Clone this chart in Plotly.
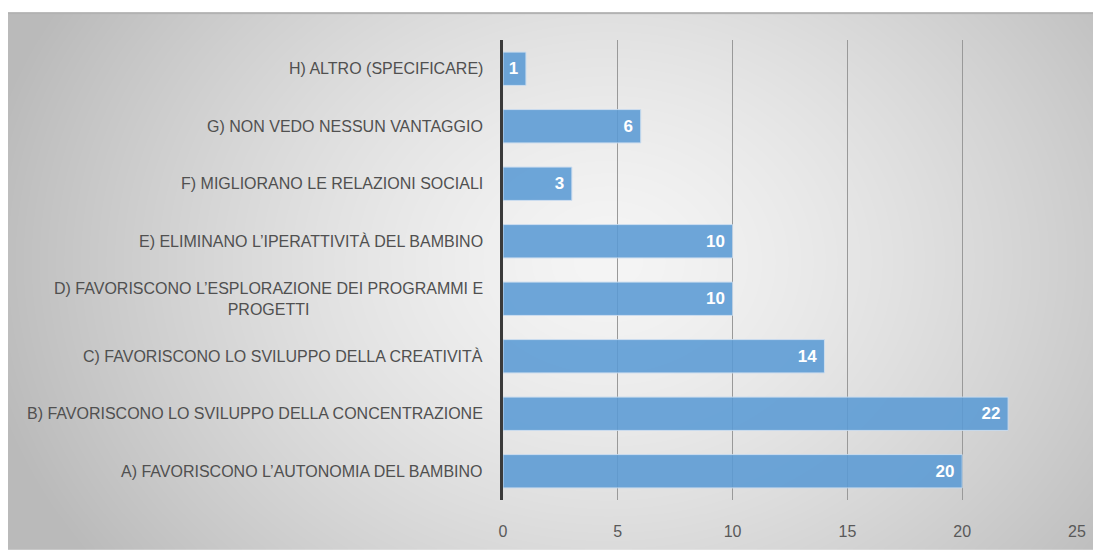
import base64, struct, zlib
import numpy as np
import plotly.graph_objects as go

categories = [
    "A) FAVORISCONO L’AUTONOMIA DEL BAMBINO",
    "B) FAVORISCONO LO SVILUPPO DELLA CONCENTRAZIONE",
    "C) FAVORISCONO LO SVILUPPO DELLA CREATIVITÀ",
    "D) FAVORISCONO L’ESPLORAZIONE DEI PROGRAMMI E<br>PROGETTI",
    "E) ELIMINANO L’IPERATTIVITÀ DEL BAMBINO",
    "F) MIGLIORANO LE RELAZIONI SOCIALI",
    "G) NON VEDO NESSUN VANTAGGIO",
    "H) ALTRO (SPECIFICARE)",
]
values = [20, 22, 14, 10, 10, 3, 6, 1]
x_ticks = [0, 5, 10, 15, 20, 25]

# page has 8px body margin; figure sized to fit the 1101x552 window
W, H = 1093, 544
L, R, T, B = 495, 24, 32, 50
PW, PH = W - L - R, H - T - B

# background panel (radial gray gradient) as generated PNG
pw, ph = 1093, 540
yy, xx = np.mgrid[0:ph, 0:pw].astype(float)
cx, cy = 600.0, 250.0
t = np.sqrt(((xx - cx) / 640.0) ** 2 + ((yy - cy) / 520.0) ** 2)
t = np.clip(t, 0, 1) ** 1.4
light, dark = 245.0, 186.0
img = light + (dark - light) * t
img[0:2, :] = 178
img = np.clip(img, 0, 255).astype(np.uint8)
raw = b"".join(b"\x00" + img[r].tobytes() for r in range(ph))
def chunk(tag, data):
    c = struct.pack(">I", len(data)) + tag + data
    return c + struct.pack(">I", zlib.crc32(tag + data) & 0xffffffff)
png = (b"\x89PNG\r\n\x1a\n" + chunk(b"IHDR", struct.pack(">IIBBBBB", pw, ph, 8, 0, 0, 0, 0))
       + chunk(b"IDAT", zlib.compress(raw, 9)) + chunk(b"IEND", b""))
uri = "data:image/png;base64," + base64.b64encode(png).decode()

font = "Liberation Sans, Arial, sans-serif"

fig = go.Figure()
fig.add_trace(go.Bar(
    y=categories, x=values, orientation="h",
    marker=dict(color="#5b9bd5", opacity=0.88, line=dict(color="#c9dcf0", width=1)),
    text=[str(v) for v in values], texttemplate="%{text}\u00a0",
    textposition="inside", insidetextanchor="end",
    textfont=dict(color="white", size=17, family=font, weight="bold"),
    cliponaxis=False, hoverinfo="x+y",
))

for c in categories:
    fig.add_annotation(x=0, y=c, xref="x", yref="y", text=c, showarrow=False,
                       xanchor="right", xshift=-18, align="center",
                       font=dict(size=16, color="#505050", family=font))

fig.add_layout_image(dict(
    source=uri, xref="paper", yref="paper",
    x=(0 - L) / PW, y=(H - B - 4) / PH, sizex=pw / PW, sizey=ph / PH,
    xanchor="left", yanchor="top", sizing="stretch", layer="below",
))

fig.update_layout(
    width=W, height=H, margin=dict(l=L, r=R, t=T, b=B),
    paper_bgcolor="white", plot_bgcolor="rgba(0,0,0,0)",
    bargap=0.42, showlegend=False,
    xaxis=dict(range=[0, 25], tickvals=x_ticks, showgrid=True, gridcolor="#999999",
               gridwidth=1, zeroline=False, showline=False,
               tickfont=dict(size=16, color="#595959", family=font),
               ticks="", ticklabelstandoff=20, fixedrange=True),
    yaxis=dict(categoryorder="array", categoryarray=categories, showticklabels=False,
               showline=True, linecolor="#3a3a3a", linewidth=2.5, showgrid=False,
               zeroline=False, fixedrange=True),
)

fig.write_html("out.html")
